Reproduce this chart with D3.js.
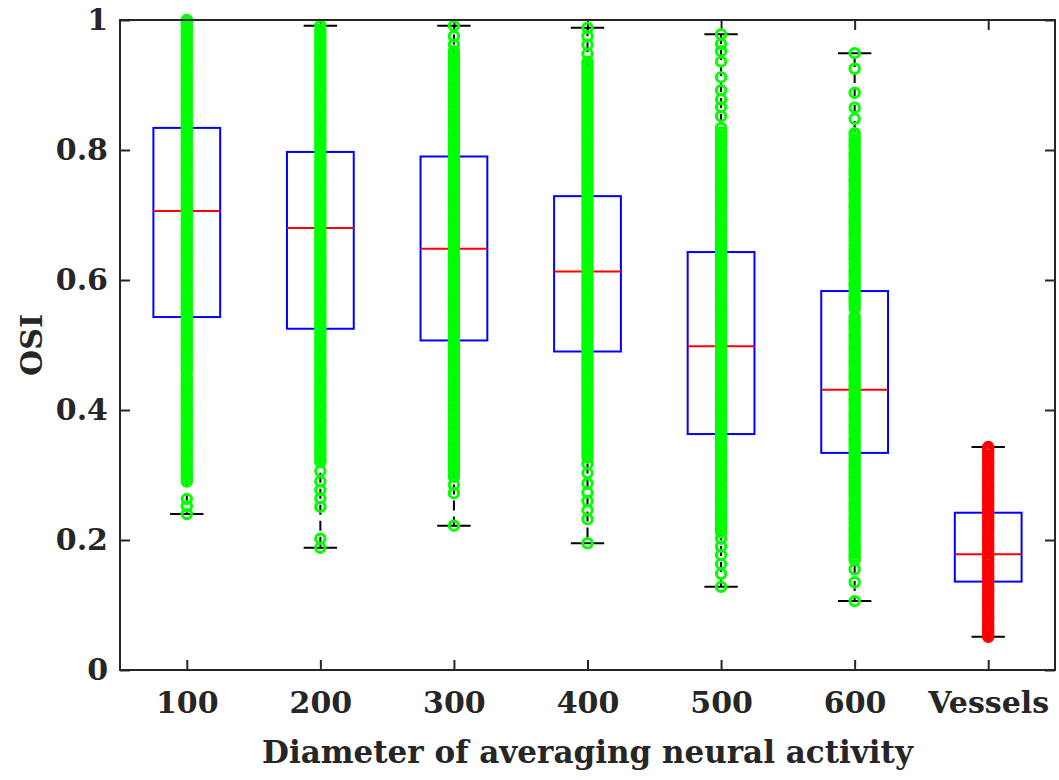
<!DOCTYPE html>
<html>
<head>
<meta charset="utf-8">
<script src="https://cdn.jsdelivr.net/npm/d3@7"></script>
<style>
  body { margin: 0; background: #fff; }
  svg text { font-family: "DejaVu Serif", serif; font-weight: bold; fill: #262626; }
</style>
</head>
<body>
<svg id="chart" width="1059" height="780"></svg>
<script>
const cats = ["100", "200", "300", "400", "500", "600", "Vessels"];
const yTicks = [0, 0.2, 0.4, 0.6, 0.8, 1];

// box statistics
const q1 = [0.543, 0.525, 0.507, 0.490, 0.363, 0.334, 0.136];
const med = [0.706, 0.680, 0.648, 0.613, 0.498, 0.431, 0.178];
const q3 = [0.834, 0.797, 0.790, 0.729, 0.643, 0.583, 0.242];
const lo = [0.240, 0.188, 0.222, 0.195, 0.128, 0.106, 0.051];
const hi = [1.000, 0.991, 0.991, 0.988, 0.978, 0.949, 0.343];

// individual OSI values (circles), per group; the columns are dense so values are listed closely
const osi100 = [.240, .252, .263,
  .290, .295, .300, .305, .310, .315, .320, .325, .330, .335,
  .340, .345, .350, .355, .360, .365, .370, .375, .380, .385,
  .390, .395, .400, .405, .410, .415, .420, .425, .430, .435,
  .440, .445, .450, .458, .463, .468, .473, .478, .483, .488,
  .493, .498, .503, .508, .513, .518, .523, .528, .533, .538,
  .543, .548, .553, .558, .563, .568, .573, .578, .583, .588,
  .593, .598, .603, .608, .613, .618, .623, .628, .633, .638,
  .643, .648, .653, .658, .663, .668, .673, .678, .683, .688,
  .693, .698, .703, .708, .713, .718, .723, .728, .733, .738,
  .743, .748, .753, .758, .763, .768, .773, .778, .783, .788,
  .793, .798, .803, .808, .813, .818, .823, .828, .833, .838,
  .843, .848, .853, .858, .863, .868, .873, .878, .883, .888,
  .893, .898, .903, .908, .913, .918, .923, .928, .933, .938,
  .943, .948, .953, .958, .963, .968, .973, .978, .983, .988,
  .992, .996, 1.000];
const osi200 = [.188, .202, .251, .264, .277, .290, .306,
  .320, .325, .330, .335, .340, .345, .350, .355, .360, .365,
  .370, .375, .380, .385, .390, .395, .400, .405, .410, .415,
  .420, .425, .430, .435, .440, .445, .450, .455, .460, .465,
  .470, .475, .480, .485, .490, .495, .500, .505, .510, .515,
  .520, .525, .530, .535, .540, .545, .550, .555, .560, .565,
  .570, .575, .580, .585, .590, .595, .600, .605, .610, .615,
  .620, .625, .630, .635, .640, .645, .650, .655, .660, .665,
  .670, .675, .680, .685, .690, .695, .700, .705, .710, .715,
  .720, .725, .730, .735, .740, .745, .750, .755, .760, .765,
  .770, .775, .780, .785, .790, .795, .800, .805, .810, .815,
  .820, .825, .830, .835, .840, .845, .850, .855, .860, .865,
  .870, .875, .880, .885, .890, .895, .900, .905, .910, .915,
  .920, .925, .930, .935, .940, .945, .950, .955, .960, .965,
  .970, .975, .980, .985, .991];
const osi300 = [.222, .272, .285,
  .297, .302, .307, .312, .317, .322, .327, .332, .337, .342,
  .347, .352, .357, .362, .367, .372, .377, .382, .387, .392,
  .397, .402, .407, .412, .417, .422, .427, .432, .437, .442,
  .447, .452, .457, .462, .467, .472, .477, .482, .487, .492,
  .497, .502, .507, .512, .517, .522, .527, .532, .537, .542,
  .547, .552, .557, .562, .567, .572, .577, .582, .587, .592,
  .597, .602, .607, .612, .617, .622, .627, .632, .637, .642,
  .647, .652, .657, .662, .667, .672, .677, .682, .687, .692,
  .697, .702, .707, .712, .717, .722, .727, .732, .737, .742,
  .747, .752, .757, .762, .767, .772, .777, .782, .787, .792,
  .797, .802, .807, .812, .817, .822, .827, .832, .837, .842,
  .847, .852, .857, .862, .867, .872, .877, .882, .887, .892,
  .897, .902, .907, .912, .917, .922, .927, .932, .937, .942,
  .947, .952, .962, .975, .991];
const osi400 = [.195, .232, .246, .260, .273, .287, .303, .317,
  .327, .332, .337, .342, .347, .352, .357, .362, .367, .372,
  .377, .382, .387, .392, .397, .402, .407, .412, .417, .422,
  .427, .432, .437, .442, .447, .452, .457, .462, .467, .472,
  .477, .482, .487, .492, .497, .502, .507, .512, .517, .522,
  .527, .532, .537, .542, .547, .552, .557, .562, .567, .572,
  .577, .582, .587, .592, .597, .602, .607, .612, .617, .622,
  .627, .632, .637, .642, .647, .652, .657, .662, .667, .672,
  .677, .682, .687, .692, .697, .702, .707, .712, .717, .722,
  .727, .732, .737, .742, .747, .752, .757, .762, .767, .772,
  .777, .782, .787, .792, .797, .802, .807, .812, .817, .822,
  .827, .832, .837, .842, .847, .852, .857, .862, .867, .872,
  .877, .882, .887, .892, .897, .902, .907, .912, .917, .922,
  .927, .932, .936, .948, .962, .975, .988];
const osi500 = [.128, .148, .163, .177, .190, .202,
  .212, .217, .222, .227, .232, .237, .242, .247, .252, .257,
  .262, .267, .272, .277, .282, .287, .292, .297, .302, .307,
  .312, .317, .322, .327, .332, .337, .342, .347, .352, .357,
  .362, .367, .372, .377, .382, .387, .392, .397, .402, .407,
  .412, .417, .422, .427, .432, .437, .442, .447, .452, .457,
  .462, .467, .472, .477, .482, .487, .492, .497, .502, .507,
  .512, .517, .522, .527, .532, .537, .542, .547, .552, .557,
  .562, .567, .572, .577, .582, .587, .592, .597, .602, .607,
  .612, .617, .622, .627, .632, .637, .642, .647, .652, .657,
  .662, .667, .672, .677, .682, .687, .692, .697, .702, .707,
  .712, .717, .722, .727, .732, .737, .742, .747, .752, .757,
  .762, .767, .772, .777, .782, .787, .792, .797, .802, .807,
  .812, .817, .822, .827, .834,
  .852, .866, .878, .892, .912, .936, .952, .963, .978];
const osi600 = [.106, .135, .155,
  .169, .174, .179, .184, .189, .194, .199, .204, .209, .214,
  .219, .224, .229, .234, .239, .244, .249, .254, .259, .264,
  .269, .274, .279, .284, .289, .294, .299, .304, .309, .314,
  .319, .324, .329, .334, .339, .344, .349, .354, .359, .364,
  .369, .374, .379, .384, .389, .394, .399, .404, .409, .414,
  .419, .424, .429, .434, .439, .444, .449, .454, .459, .464,
  .469, .474, .479, .484, .489, .494, .499, .504, .509, .514,
  .519, .524, .529, .534, .539, .544,
  .556, .561, .566, .571, .576, .581, .586, .591, .596, .601,
  .606, .611, .616, .621, .626, .631, .636, .641, .646, .651,
  .656, .661, .666, .671, .676, .681, .686, .691, .696, .701,
  .706, .711, .716, .721, .726, .731, .736, .741, .746, .751,
  .756, .761, .766, .771, .776, .781, .786, .791, .796, .801,
  .806, .811, .816, .821, .826,
  .848, .865, .888, .925, .949];
const osiVessels = [.051, .055, .060, .065, .070, .075, .080, .085, .090, .095,
  .100, .105, .110, .115, .120, .125, .130, .135, .140, .145,
  .150, .155, .160, .165, .170, .175, .180, .185, .190, .195,
  .200, .205, .210, .215, .220, .225, .230, .235, .240, .245,
  .250, .255, .260, .265, .270, .275, .280, .285, .290, .295,
  .300, .305, .310, .315, .320, .325, .330, .335, .340, .343];

const groups = [osi100, osi200, osi300, osi400, osi500, osi600, osiVessels];
const pointColor = ["#00ff00", "#00ff00", "#00ff00", "#00ff00", "#00ff00", "#00ff00", "#ff0000"];

const L = 120, R = 1055, T = 20, B = 670;
const svg = d3.select("#chart");

const x = d3.scalePoint().domain(cats).range([L, R]).padding(0.5);
const y = d3.scaleLinear().domain([0, 1]).range([B, T]);
const step = x.step();
const boxHalf = step * 0.25;
const capHalf = step * 0.125;

const axisColor = "#262626";

// axes: ticks point inward, mirrored on top/right
svg.append("g")
  .attr("transform", `translate(${L},0)`)
  .call(d3.axisLeft(y).tickValues(yTicks).tickSize(-10).tickFormat(d3.format("~g")))
  .call((g) => {
    g.select(".domain").remove();
    g.selectAll("line").attr("stroke", axisColor).attr("stroke-width", 2);
    g.selectAll("text").attr("x", -12).attr("font-size", 30).attr("font-family", null).attr("fill", null);
  });
svg.append("g")
  .attr("transform", `translate(${R},0)`)
  .call(d3.axisRight(y).tickValues(yTicks).tickSize(-10).tickFormat(""))
  .call((g) => {
    g.select(".domain").remove();
    g.selectAll("line").attr("stroke", axisColor).attr("stroke-width", 2);
  });
svg.append("g")
  .attr("transform", `translate(0,${B})`)
  .call(d3.axisBottom(x).tickSize(-10))
  .call((g) => {
    g.select(".domain").remove();
    g.selectAll("line").attr("stroke", axisColor).attr("stroke-width", 2);
    g.selectAll("text").attr("y", 43).attr("dy", null).attr("font-size", 30).attr("font-family", null).attr("fill", null);
  });
svg.append("g")
  .attr("transform", `translate(0,${T})`)
  .call(d3.axisTop(x).tickSize(-10).tickFormat(""))
  .call((g) => {
    g.select(".domain").remove();
    g.selectAll("line").attr("stroke", axisColor).attr("stroke-width", 2);
  });

const plot = svg.append("g");

// whiskers (dashed), caps, boxes, medians
cats.forEach((c, i) => {
  const cx = x(c);
  plot.append("line")
    .attr("x1", cx).attr("x2", cx).attr("y1", y(q3[i])).attr("y2", y(hi[i]))
    .attr("stroke", "#000").attr("stroke-width", 2).attr("stroke-dasharray", "10,6");
  plot.append("line")
    .attr("x1", cx).attr("x2", cx).attr("y1", y(q1[i])).attr("y2", y(lo[i]))
    .attr("stroke", "#000").attr("stroke-width", 2).attr("stroke-dasharray", "10,6");
  [hi[i], lo[i]].forEach((v) => {
    plot.append("line")
      .attr("x1", cx - capHalf).attr("x2", cx + capHalf).attr("y1", y(v)).attr("y2", y(v))
      .attr("stroke", "#000").attr("stroke-width", 2);
  });
  plot.append("rect")
    .attr("x", cx - boxHalf).attr("width", boxHalf * 2)
    .attr("y", y(q3[i])).attr("height", y(q1[i]) - y(q3[i]))
    .attr("fill", "none").attr("stroke", "#0000ff").attr("stroke-width", 2);
  plot.append("line")
    .attr("x1", cx - boxHalf).attr("x2", cx + boxHalf).attr("y1", y(med[i])).attr("y2", y(med[i]))
    .attr("stroke", "#ff0000").attr("stroke-width", 2);
});

// data circles on top
groups.forEach((vals, i) => {
  plot.append("g").selectAll("circle")
    .data(vals)
    .join("circle")
    .attr("cx", x(cats[i]))
    .attr("cy", (d) => y(d))
    .attr("r", 4.7)
    .attr("fill", "none")
    .attr("stroke", pointColor[i])
    .attr("stroke-width", 3);
});

// axes frame
svg.append("rect")
  .attr("x", L).attr("y", T).attr("width", R - L).attr("height", B - T)
  .attr("fill", "none").attr("stroke", axisColor).attr("stroke-width", 2);

svg.append("text")
  .attr("x", (L + R) / 2).attr("y", 763)
  .attr("text-anchor", "middle").attr("font-size", 31)
  .text("Diameter of averaging neural activity");

svg.append("text")
  .attr("transform", `translate(42,${(T + B) / 2}) rotate(-90)`)
  .attr("text-anchor", "middle").attr("font-size", 30)
  .text("OSI");
</script>
</body>
</html>
